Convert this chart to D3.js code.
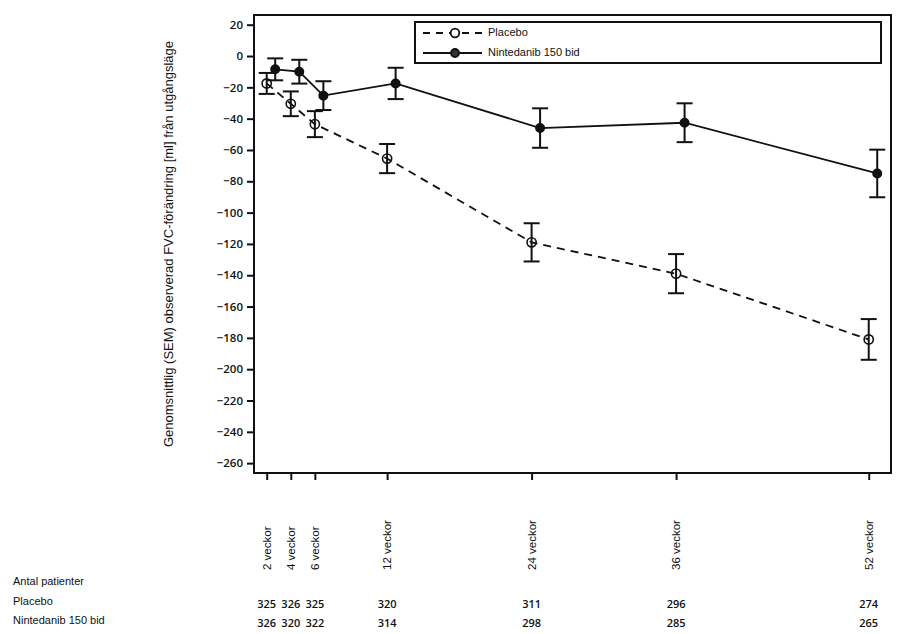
<!DOCTYPE html>
<html>
<head>
<meta charset="utf-8">
<script src="https://cdn.jsdelivr.net/npm/d3@7"></script>
<style>
  body { margin: 0; background: #fff; }
  svg { display: block; }
</style>
</head>
<body>
<div id="chart"></div>
<script>
// Data
var weeks = [2, 4, 6, 12, 24, 36, 52];
var weekLabels = ["2 veckor", "4 veckor", "6 veckor", "12 veckor", "24 veckor", "36 veckor", "52 veckor"];
var placeboMean = [-17.5, -30.5, -43.5, -65.5, -119, -139, -181];
var placeboSem = [6.7, 7.9, 8.3, 9.3, 12.2, 12.5, 13];
var nintedanibMean = [-8.5, -10, -25.3, -17.5, -46, -42.6, -75];
var nintedanibSem = [7, 7.6, 9.2, 10, 12.6, 12.4, 15.2];
var placeboN = [325, 326, 325, 320, 311, 296, 274];
var nintedanibN = [326, 320, 322, 314, 298, 285, 265];
var yTicks = d3.range(20, -261, -20);

var width = 916,
    height = 634;

var plot = ({ left: 254, right: 891, top: 15, bottom: 473 });

var svg = d3.select("#chart")
    .append("svg")
    .attr("width", width)
    .attr("height", height);

var x = d3.scaleLinear()
    .domain([0.945, 53.85])
    .range([plot.left, plot.right]);

var y = d3.scaleLinear()
    .domain([-266.3, 26.2])
    .range([plot.bottom, plot.top]);

// nintedanib points are drawn slightly to the right of placebo
var shift = 8.5;

var numFont = "'Open Sans', sans-serif";
var txtFont = "'Liberation Sans', Arial, sans-serif";

// Y axis
var yAxis = svg.append("g")
    .attr("transform", "translate(" + plot.left + ",0)")
    .call(d3.axisLeft(y).tickValues(yTicks).tickSize(7).tickPadding(4).tickFormat(d3.format("d")));
yAxis.select(".domain").remove();
yAxis.selectAll(".tick line").attr("stroke", "#111").attr("stroke-width", 2);
yAxis.selectAll(".tick text")
    .style("font-family", numFont)
    .style("font-size", "11.5px")
    .style("font-weight", 600)
    .attr("fill", "#111");

// X axis (ticks only, labels drawn rotated below)
var xAxis = svg.append("g")
    .attr("transform", "translate(0," + plot.bottom + ")")
    .call(d3.axisBottom(x).tickValues(weeks).tickSize(7).tickFormat(""));
xAxis.select(".domain").remove();
xAxis.selectAll(".tick line").attr("stroke", "#111").attr("stroke-width", 2);

// Frame
svg.append("rect")
    .attr("x", plot.left)
    .attr("y", plot.top)
    .attr("width", plot.right - plot.left)
    .attr("height", plot.bottom - plot.top)
    .attr("fill", "none")
    .attr("stroke", "#111")
    .attr("stroke-width", 2);

// Y label
svg.append("text")
    .attr("transform", "translate(170,244) rotate(-90)")
    .attr("text-anchor", "middle")
    .attr("dominant-baseline", "middle")
    .style("font-family", txtFont)
    .style("font-size", "13px")
    .style("font-weight", 500)
    .attr("fill", "#111")
    .text("Genomsnittlig (SEM) observerad FVC-förändring [ml] från utgångsläge");

// Series
var series = [
    { name: "Placebo", mean: placeboMean, sem: placeboSem, dx: 0, dash: "8,6", filled: false },
    { name: "Nintedanib 150 bid", mean: nintedanibMean, sem: nintedanibSem, dx: shift, dash: null, filled: true }
];

series.forEach(function(s) {
    var pts = weeks.map(function(w, i) {
        return { w: w, v: s.mean[i], e: s.sem[i] };
    });
    var g = svg.append("g");

    var line = d3.line()
        .x(function(d) { return x(d.w) + s.dx; })
        .y(function(d) { return y(d.v); });

    g.append("path")
        .datum(pts)
        .attr("d", line)
        .attr("fill", "none")
        .attr("stroke", "#111")
        .attr("stroke-width", 1.8)
        .attr("stroke-dasharray", s.dash);

    // error bars
    var eb = g.selectAll(".eb")
        .data(pts)
        .enter()
        .append("g")
        .attr("transform", function(d) { return "translate(" + (x(d.w) + s.dx) + ",0)"; });
    eb.append("line")
        .attr("x1", 0).attr("x2", 0)
        .attr("y1", function(d) { return y(d.v + d.e); })
        .attr("y2", function(d) { return y(d.v - d.e); });
    eb.append("line")
        .attr("x1", -8).attr("x2", 8)
        .attr("y1", function(d) { return y(d.v + d.e); })
        .attr("y2", function(d) { return y(d.v + d.e); });
    eb.append("line")
        .attr("x1", -8).attr("x2", 8)
        .attr("y1", function(d) { return y(d.v - d.e); })
        .attr("y2", function(d) { return y(d.v - d.e); });
    eb.selectAll("line").attr("stroke", "#111").attr("stroke-width", 2);

    g.selectAll("circle")
        .data(pts)
        .enter()
        .append("circle")
        .attr("cx", function(d) { return x(d.w) + s.dx; })
        .attr("cy", function(d) { return y(d.v); })
        .attr("r", s.filled ? 4.2 : 4.6)
        .attr("fill", s.filled ? "#111" : "none")
        .attr("stroke", "#111")
        .attr("stroke-width", 1.6);
});

// Legend
var legend = svg.append("g");
legend.append("rect")
    .attr("x", 415)
    .attr("y", 22)
    .attr("width", 466)
    .attr("height", 41)
    .attr("fill", "#fff")
    .attr("stroke", "#111")
    .attr("stroke-width", 2);

series.forEach(function(s, i) {
    var ly = 33 + i * 20;
    legend.append("line")
        .attr("x1", 423).attr("x2", 482)
        .attr("y1", ly).attr("y2", ly)
        .attr("stroke", "#111")
        .attr("stroke-width", 1.8)
        .attr("stroke-dasharray", s.dash ? "7,6" : null);
    legend.append("circle")
        .attr("cx", 455).attr("cy", ly)
        .attr("r", s.filled ? 4 : 4.3)
        .attr("fill", s.filled ? "#333" : "#fff")
        .attr("stroke", "#111")
        .attr("stroke-width", 1.8);
    legend.append("text")
        .attr("x", 488)
        .attr("y", ly)
        .attr("dominant-baseline", "middle")
        .style("font-family", txtFont)
        .style("font-size", "11px")
        .attr("fill", "#111")
        .text(s.name);
});

// Rotated week labels
svg.selectAll(".wlab")
    .data(weeks)
    .enter()
    .append("text")
    .attr("transform", function(d) { return "translate(" + (x(d) + 4) + ",570) rotate(-90)"; })
    .attr("text-anchor", "start")
    .style("font-family", txtFont)
    .style("font-size", "11.5px")
    .attr("fill", "#111")
    .text(function(d, i) { return weekLabels[i]; });

// Patient table
var rows = [
    { label: "Antal patienter", y: 585, values: null },
    { label: "Placebo", y: 605, values: placeboN },
    { label: "Nintedanib 150 bid", y: 624, values: nintedanibN }
];
rows.forEach(function(r) {
    svg.append("text")
        .attr("x", 13)
        .attr("y", r.y)
        .style("font-family", txtFont)
        .style("font-size", "11px")
        .attr("fill", "#111")
        .text(r.label);
    if (r.values) {
        svg.selectAll(null)
            .data(r.values)
            .enter()
            .append("text")
            .attr("x", function(d, i) { return x(weeks[i]); })
            .attr("y", r.y + 3)
            .attr("text-anchor", "middle")
            .style("font-family", numFont)
            .style("font-size", "11px")
            .style("font-weight", 600)
            .attr("fill", "#111")
            .text(function(d) { return d; });
    }
});
</script>
</body>
</html>
